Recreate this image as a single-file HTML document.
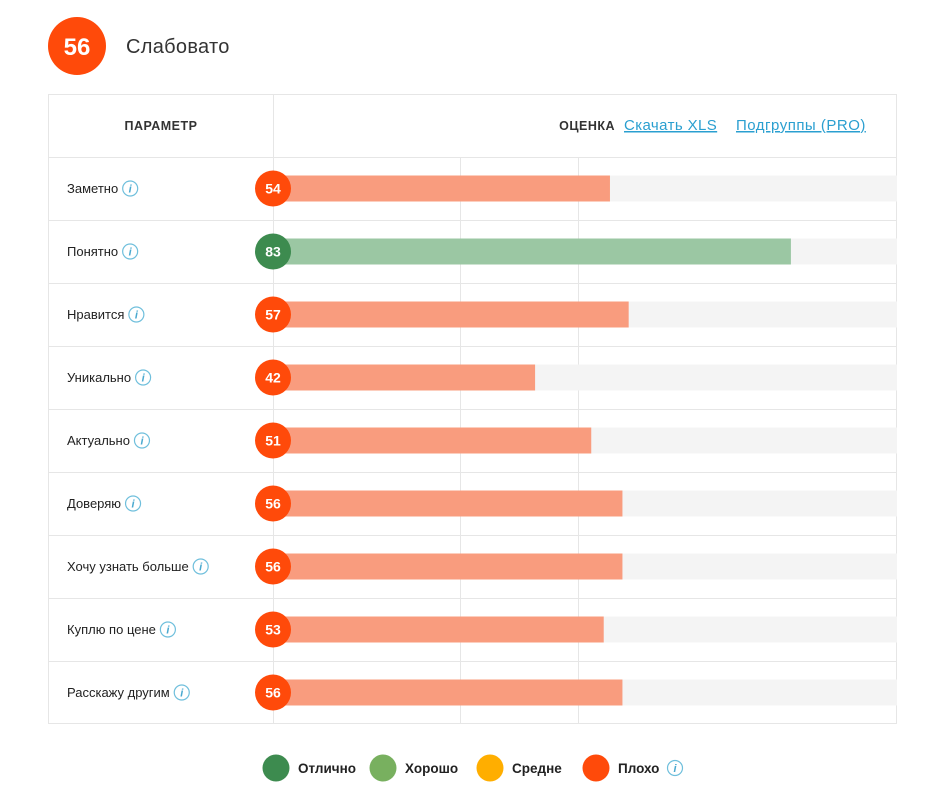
<!DOCTYPE html>
<html><head><meta charset="utf-8"><style>
body{margin:0;width:934px;height:802px;background:#fff;font-family:"Liberation Sans",sans-serif;overflow:hidden}
svg text{font-family:"Liberation Sans",sans-serif}
</style></head><body>
<svg id="chart" width="934" height="802"></svg>
<script>
const labels=["Заметно","Понятно","Нравится","Уникально","Актуально","Доверяю","Хочу узнать больше","Куплю по цене","Расскажу другим"];
const values=[54,83,57,42,51,56,56,53,56];
const total=[56];
const NS="http://www.w3.org/2000/svg";
const svg=document.getElementById('chart');
function el(t,a,txt){const e=document.createElementNS(NS,t);for(const k in a)e.setAttribute(k,a[k]);if(txt!==undefined)e.textContent=txt;svg.appendChild(e);return e;}
const x0=273,x1=897,xs=v=>x0+(x1-x0)*v/100;
const rowTop=157,rowH=63;
function color(v){return v>=70?'#3d8b4f':v>=60?'#f5a623':'#ff4a0a';}
function barColor(v){return v>=70?'#9bc7a3':'#f99c7e';}
function info(cx,cy,name){const g=el('g',{});
 const c=document.createElementNS(NS,'circle');c.setAttribute('cx',cx);c.setAttribute('cy',cy);c.setAttribute('r',7.5);c.setAttribute('fill','none');c.setAttribute('stroke','#6fbfdc');c.setAttribute('stroke-width','1.2');g.appendChild(c);
 const t=document.createElementNS(NS,'text');t.setAttribute('x',cx);t.setAttribute('y',cy+4);t.setAttribute('text-anchor','middle');t.setAttribute('font-size','11');t.setAttribute('font-style','italic');t.setAttribute('font-weight','bold');t.setAttribute('fill','#4aa9d0');t.setAttribute('font-family','Liberation Serif,serif');t.textContent='i';g.appendChild(t);}
let e=el('circle',{cx:77,cy:46,r:29,fill:'#ff4a0a'});

e=el('text',{x:77,y:55,'text-anchor':'middle','font-size':24,'font-weight':'bold',fill:'#fff'},total[0]);

e=el('text',{x:126,y:53,'font-size':20,fill:'#333','letter-spacing':'0.3'},'Слабовато');

e=el('rect',{x:48.5,y:94.5,width:848,height:629,fill:'none',stroke:'#e6e6e6'});

el('line',{x1:273.5,y1:94,x2:273.5,y2:723,stroke:'#e6e6e6'});
[460.5,578.5].forEach((x,i)=>{const l=el('line',{x1:x,y1:157,x2:x,y2:723,stroke:'#e6e6e6'});});
e=el('text',{x:161,y:130,'text-anchor':'middle','font-size':12.5,'font-weight':'bold',fill:'#333','letter-spacing':'0.5'},'ПАРАМЕТР');

e=el('text',{x:615,y:130,'text-anchor':'end','font-size':12.5,'font-weight':'bold',fill:'#333','letter-spacing':'0.5'},'ОЦЕНКА');

e=el('text',{x:624,y:130,'font-size':15,fill:'#2a9fd0','text-decoration':'underline','letter-spacing':'0.4'},'Скачать XLS');

e=el('text',{x:736,y:130,'font-size':15,fill:'#2a9fd0','text-decoration':'underline','letter-spacing':'0.5'},'Подгруппы (PRO)');

labels.forEach((lab,i)=>{
 const top=rowTop+i*rowH, cy=top+31.5;
 const s=el('line',{x1:48,y1:top+0.5,x2:897,y2:top+0.5,stroke:'#e6e6e6'});
 
 const t=el('text',{x:67,y:cy+4.5,'font-size':13,fill:'#222'},lab);
 
 const w=t.getComputedTextLength?t.getComputedTextLength():lab.length*7;
 info(67+w+12,cy,'param-info-icon');
 const bg=el('rect',{x:x0,y:cy-13,width:x1-x0,height:26,fill:'#f4f4f4'});
 
 const b=el('rect',{x:x0,y:cy-13,width:xs(values[i])-x0,height:26,fill:barColor(values[i])});
 
 const c=el('circle',{cx:x0,cy:cy,r:18,fill:color(values[i])});
 
 const v=el('text',{x:x0,y:cy+5,'text-anchor':'middle','font-size':14,'font-weight':'bold',fill:'#fff'},values[i]);
 
});
el('line',{x1:48,y1:723.5,x2:897,y2:723.5,stroke:'#e6e6e6'});
const legNames=["Отлично","Хорошо","Средне","Плохо"];
const legColors=['#3d8b4f','#78b05f','#ffae00','#ff4a0a'];
const legX=[276,383,490,596];
legNames.forEach((n,i)=>{
 const c=el('circle',{cx:legX[i],cy:768,r:13.5,fill:legColors[i]});
 
 const t=el('text',{x:legX[i]+22,y:773,'font-size':13.5,'font-weight':'bold',fill:'#222'},n);
 
});
info(675,768,'legend-info-icon');
</script>
</body></html>
